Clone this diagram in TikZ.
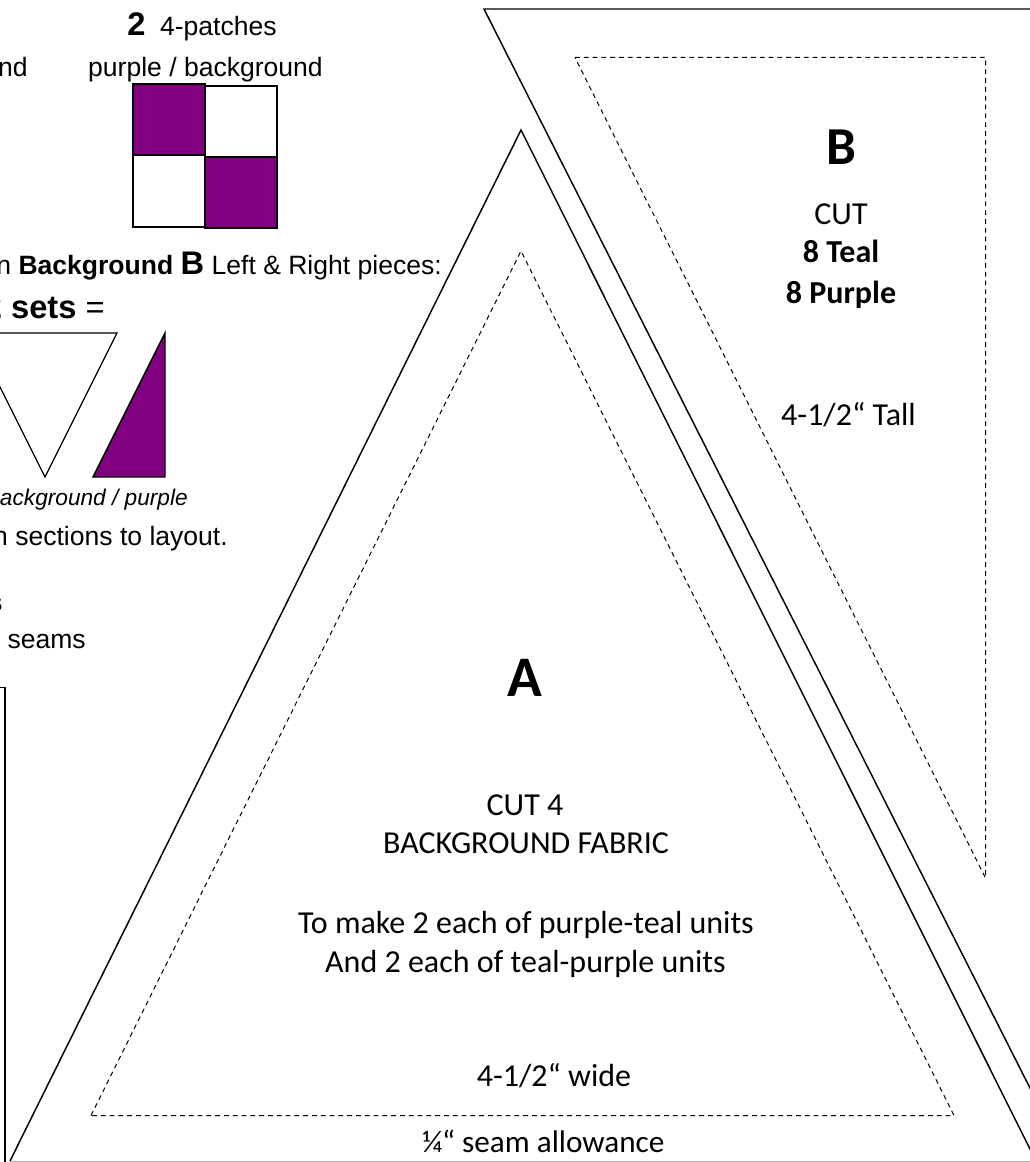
\documentclass[tikz,border=0pt]{standalone}
\usepackage{fontspec}
\setmainfont{Liberation Sans}
\newfontfamily\calib{Carlito}
\definecolor{patch}{RGB}{128,0,128}
\tikzset{
  x=0.75pt,y=-0.75pt,
  cutline/.style={draw=black,line width=1.1pt,line join=miter},
  seamline/.style={draw=black,line width=0.75pt,dash pattern=on 3.6pt off 3pt},
  patchfill/.style={draw=black,line width=1.1pt,fill=patch},
  patchwhite/.style={draw=black,line width=1.1pt,fill=white},
  ar/.style={inner sep=0pt,font=\fontsize{19.9pt}{22pt}\selectfont},
  ca/.style={inner sep=0pt,font=\calib\fontsize{24pt}{28pt}\selectfont},
  cab/.style={inner sep=0pt,font=\calib\bfseries\fontsize{24pt}{28pt}\selectfont},
  bigb/.style={inner sep=0pt,font=\calib\bfseries\fontsize{40pt}{44pt}\selectfont},
  biga/.style={inner sep=0pt,font=\calib\bfseries\fontsize{43pt}{47pt}\selectfont}
}
\begin{document}
\begin{tikzpicture}
\useasboundingbox (0,0) rectangle (1030,1162);
\clip (0,0) rectangle (1030,1162);
% left texts
\node[ar,anchor=base west] (t1) at (127,36) {\textbf{\fontsize{24.5pt}{26pt}\selectfont 2}\hspace{0.55em}4-patches};
\node[ar,anchor=base east] (t2) at (28,77) {nd};
\node[ar,anchor=base] (t3) at (205.5,77) {purple / background};
\node[ar,anchor=base east] (t4) at (442,275) {n \textbf{Background} {\fontsize{24.5pt}{26pt}\selectfont\textbf{B}} Left \& Right pieces:};
\node[ar,anchor=base east] (t5) at (105,319) {\fontsize{24.5pt}{26pt}\selectfont\textbf{2 sets} =};
\node[inner sep=0pt,anchor=base east,font=\itshape\fontsize{17pt}{19pt}\selectfont] (t6) at (188,505) {ackground / purple};
\node[ar,anchor=base east] (t7) at (228,545) {n sections to layout.};
\node[inner sep=0pt,anchor=base east,font=\bfseries\fontsize{19.9pt}{22pt}\selectfont] (t8) at (3,611) {s};
\node[ar,anchor=base east] (t9) at (86,648) {seams};
% four-patch
\path[patchfill] (133,84) rectangle (205,155);
\path[patchwhite] (205,86) rectangle (277,157);
\path[patchwhite] (133,155) rectangle (205,227);
\path[patchfill] (205,157) rectangle (277,228);
% set pieces
\path[cutline,line width=0.9pt] (-27,333) -- (117,333) -- (45,477) -- cycle;
\path[patchfill] (165,333) -- (165,477) -- (93,477) -- cycle;
% left box
\draw[line width=1.3pt] (-2,687.5) -- (5,687.5) -- (5,1164);
% bottom rule
\draw[draw=black!30,line width=0.75pt] (10,1161.5) -- (1030,1161.5);
% pattern A
\draw[cutline] (10,1161) -- (521,130) -- (1036,1161);
\draw[seamline] (91,1115.5) -- (521,251) -- (954,1115.5) -- cycle;
% pattern B
\draw[cutline] (1032,9) -- (484,9) -- (1032,1092);
\draw[seamline] (575,57.5) -- (985.5,57.5) -- (985.5,878) -- cycle;
% pattern texts
\node[bigb,anchor=base] (lb) at (841,165) {B};
\node[ca,anchor=base] (b1) at (841,225) {CUT};
\node[cab,anchor=base] (b2) at (841,263) {8 Teal};
\node[cab,anchor=base] (b3) at (841,303) {8 Purple};
\node[ca,anchor=base] (b4) at (848.5,425) {4-1/2“ Tall};
\node[biga,anchor=base] (la) at (525,696) {A};
\node[ca,anchor=base] (a1) at (525,815) {CUT 4};
\node[ca,anchor=base] (a2) at (526,853) {BACKGROUND FABRIC};
\node[ca,anchor=base] (a3) at (526,933) {To make 2 each of purple-teal units};
\node[ca,anchor=base] (a4) at (525.5,972) {And 2 each of teal-purple units};
\node[ca,anchor=base] (a5) at (554,1086) {4-1/2“ wide};
\node[ca,anchor=base west,font=\calib\fontsize{23.4pt}{28pt}\selectfont] (a6) at (422,1152) {¼“ seam allowance};
\end{tikzpicture}
\end{document}
